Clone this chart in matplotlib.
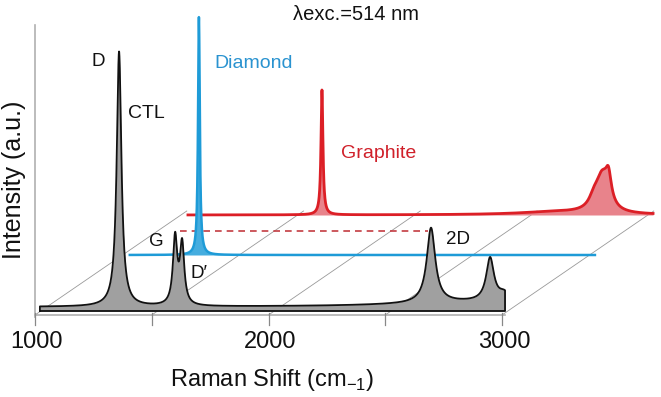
import numpy as np
import matplotlib.pyplot as plt

plt.rcParams['font.family'] = ['Liberation Sans', 'DejaVu Sans']
plt.rcParams['mathtext.fontset'] = 'custom'
plt.rcParams['mathtext.rm'] = 'Liberation Sans'

# Raman shift grid and axis ticks
shift = np.linspace(1021, 3013, 4000)
x_ticks = [1000, 1500, 2000, 2500, 3000]
tick_labels = ['1000', '', '2000', '', '3000']

# CTL spectrum (black): Lorentzian peaks
ctl_pos = [1360, 1600, 1630, 2696, 2949, 3010, 2900]
ctl_amp = [255, 67, 60, 75, 43, 8, 5]
ctl_hw = [12, 11, 11, 22, 20, 30, 400]
ctl_base = 4

# Diamond spectrum (blue)
diamond_pos = [1317]
diamond_amp = [238]
diamond_hw = [4.5]

# Graphite spectrum (red)
graphite_pos = [1595, 2822, 2795, 2760, 2600]
graphite_amp = [125, 26, 34, 10, 3]
graphite_hw = [5, 15, 32, 25, 200]

# pseudo-3D offsets (shift units, intensity units)
blue_dx, blue_dy = 385, 56
red_dx, red_dy = 634, 96
depth_dx, depth_dy = 650, 104
dash_range = [1621, 2683]
dash_level = 80


def spectrum(pos, amp, hw, base=0):
    y = np.full_like(shift, base, dtype=float)
    for p, a, g in zip(pos, amp, hw):
        y += a * g ** 2 / ((shift - p) ** 2 + g ** 2)
    return y


ctl = spectrum(ctl_pos, ctl_amp, ctl_hw, ctl_base)
diamond = spectrum(diamond_pos, diamond_amp, diamond_hw)
graphite = spectrum(graphite_pos, graphite_amp, graphite_hw)

fig = plt.figure(figsize=(6.61, 3.97), dpi=100)
ax = fig.add_axes([0, 0, 1, 1])
ax.set_xlim(1000 - 35 / 0.2335, 1000 + 626 / 0.2335)
ax.set_ylim(-86, 311)
ax.axis('off')

grey = '#b0b0b0'
# depth guide lines
for t in x_ticks:
    ax.plot([t, t + depth_dx], [-4, -4 + depth_dy], color='#999999', lw=0.6, zorder=1)
# axes
ax.plot([1000, 3013], [-4, -4], color=grey, lw=1.2, zorder=1)
ax.plot([1000, 1000], [-6, 286], color=grey, lw=1.2, zorder=1)
for t in x_ticks:
    ax.plot([t, t], [-2, -14], color='#888888', lw=0.9, zorder=1)

# graphite (back)
gx = shift + red_dx
ax.fill_between(gx, red_dy, red_dy + graphite, color='#e8838b', lw=0, zorder=2)
ax.plot(gx, red_dy + graphite, color='#dc1f26', lw=2.0, zorder=2)

ax.plot(dash_range, [dash_level, dash_level], color='#c43c42', lw=1.2, ls=(0, (4, 3)), zorder=3)

# diamond (middle)
dx = shift + blue_dx
ax.fill_between(dx, blue_dy, blue_dy + diamond, color='#45addf', lw=0, zorder=4)
ax.plot(dx, blue_dy + diamond, color='#1e9bd7', lw=1.8, zorder=4)

# CTL (front)
ax.fill_between(shift, 0, ctl, color='#a0a0a0', lw=0, zorder=5)
ax.plot(np.r_[shift[0], shift, shift[-1], shift[0]], np.r_[0, ctl, 0, 0],
        color='#111111', lw=1.3, zorder=5)

# tick labels
for t, lab in zip(x_ticks, tick_labels):
    ax.text(t + 8, -31, lab, ha='center', va='center', fontsize=17, color='#111111')


def ftext(x, y, s, **kw):
    fig.text(x / 661, 1 - y / 397, s, ha='center', va='center', **kw)


ftext(272, 380, r'Raman Shift (cm$_{\mathrm{-1}}$)', fontsize=17, color='#111111')
ftext(14, 180, 'Intensity (a.u.)', fontsize=18, rotation=90, color='#111111')
ftext(356, 15, 'λexc.=514 nm', fontsize=14.5, color='#111111')
ftext(98, 62, 'D', fontsize=13.5, color='#111111')
ftext(146, 114, 'CTL', fontsize=14, color='#111111')
ftext(254, 63, 'Diamond', fontsize=14, color='#2a93d0')
ftext(379, 153, 'Graphite', fontsize=14, color='#d0202a')
ftext(156, 242, 'G', fontsize=13.5, color='#111111')
ftext(199, 273, 'D′', fontsize=13.5, color='#111111')
ftext(458, 239, '2D', fontsize=13.5, color='#111111')

fig.savefig('out.png', dpi=100)
